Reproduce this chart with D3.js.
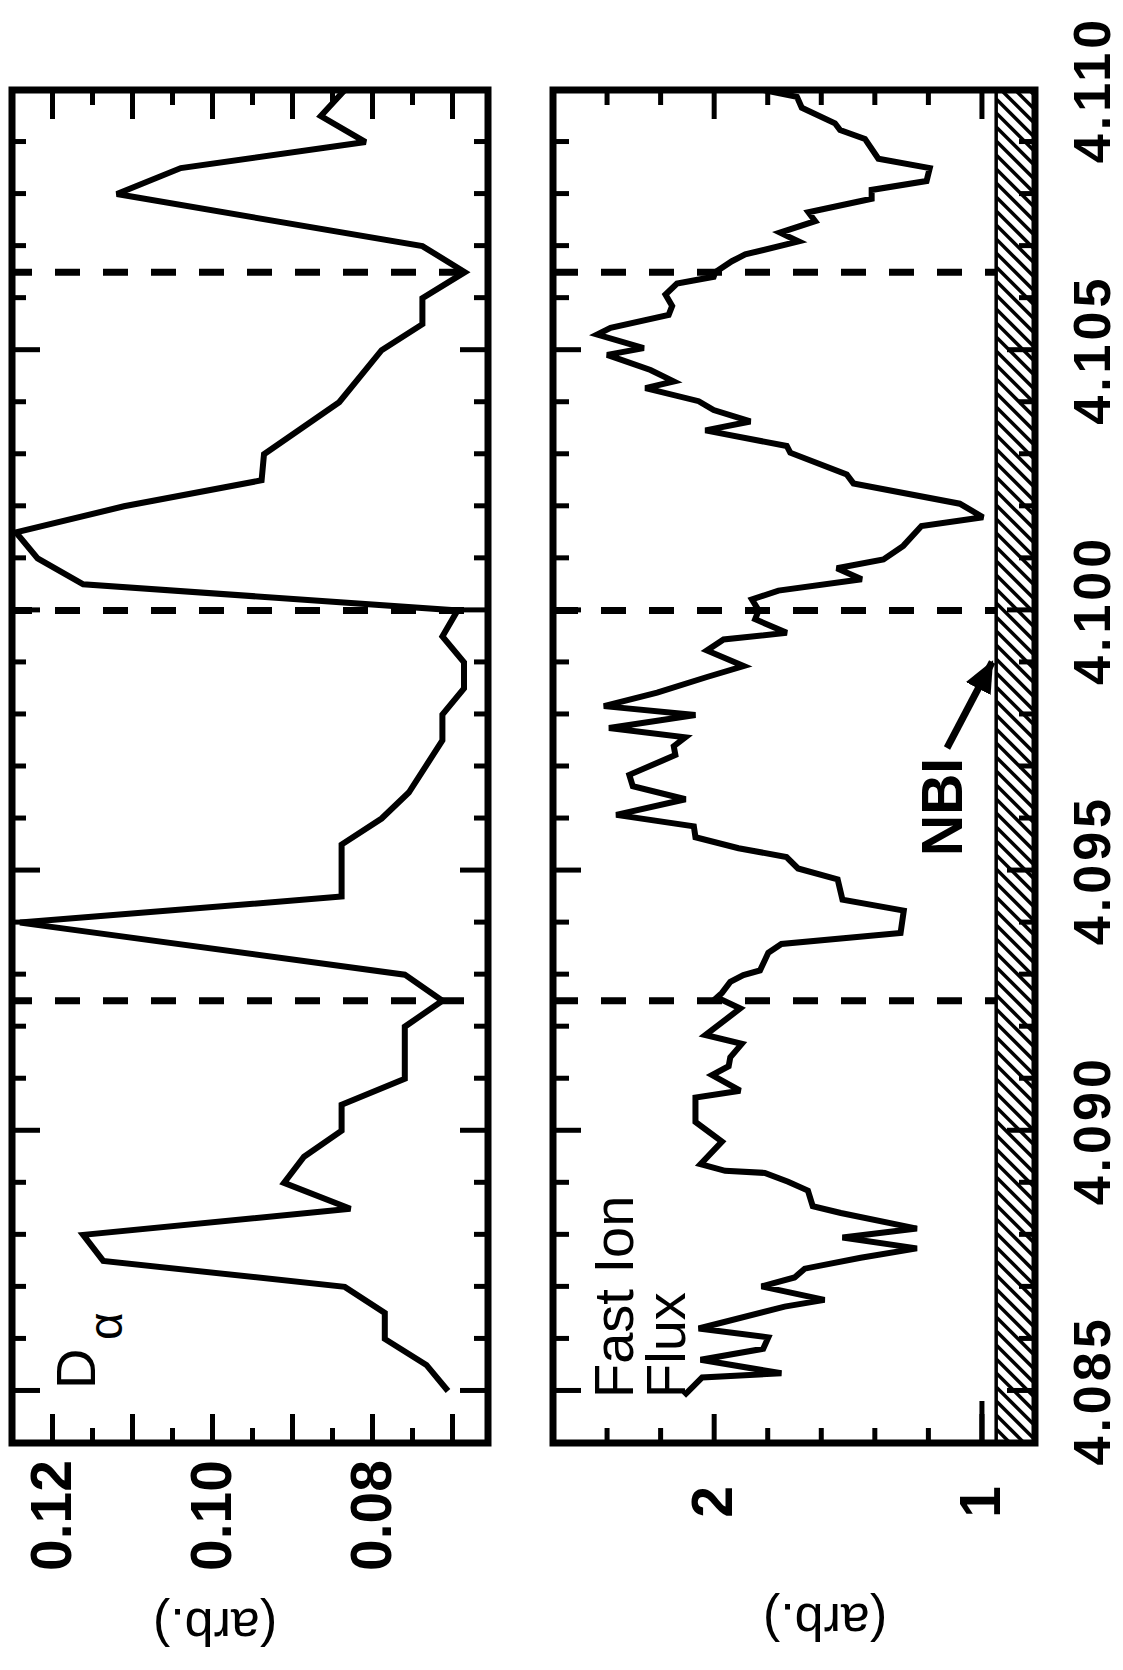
<!DOCTYPE html>
<html>
<head>
<meta charset="utf-8">
<script src="https://cdn.jsdelivr.net/npm/d3@7"></script>
<style>
  html, body { margin: 0; padding: 0; background: #fff; }
  svg { display: block; }
</style>
</head>
<body>
<svg id="chart" width="1123" height="1670"></svg>
<script>
// D-alpha emission (arb.) versus time (s)
const daTime = [4.0850, 4.0855, 4.0860, 4.0865, 4.0870, 4.0875, 4.0880, 4.0885, 4.0890, 4.0895,
  4.0900, 4.0905, 4.0910, 4.0920, 4.0925, 4.0930, 4.0940, 4.0945, 4.0955, 4.0960,
  4.0965, 4.0975, 4.0980, 4.0985, 4.0990, 4.0995, 4.1000, 4.1005, 4.1010, 4.1015,
  4.1020, 4.1025, 4.1030, 4.1040, 4.1050, 4.1055, 4.1060, 4.1065, 4.1070, 4.1080,
  4.1085, 4.1090, 4.1095, 4.1100];
const daValue = [0.0705, 0.0732, 0.0784, 0.0784, 0.0834, 0.1136, 0.1161, 0.0827, 0.0910, 0.0885,
  0.0838, 0.0838, 0.0759, 0.0759, 0.0712, 0.0759, 0.1240, 0.0838, 0.0838, 0.0788,
  0.0754, 0.0712, 0.0712, 0.0685, 0.0685, 0.0712, 0.0693, 0.1161, 0.1218, 0.1245,
  0.1110, 0.0938, 0.0935, 0.0841, 0.0788, 0.0737, 0.0737, 0.0684, 0.0737, 0.1119,
  0.1039, 0.0808, 0.0864, 0.0834];

// Fast ion flux (arb.) versus time (s)
const fluxTime = [4.08491, 4.08500, 4.08526, 4.08534, 4.08560, 4.08581, 4.08603, 4.08620, 4.08662, 4.08675,
  4.08701, 4.08718, 4.08735, 4.08756, 4.08774, 4.08795, 4.08812, 4.08842, 4.08855, 4.08885,
  4.08902, 4.08919, 4.08923, 4.08936, 4.08979, 4.09017, 4.09064, 4.09077, 4.09107, 4.09124,
  4.09141, 4.09167, 4.09184, 4.09235, 4.09256, 4.09265, 4.09286, 4.09299, 4.09308, 4.09342,
  4.09359, 4.09380, 4.09423, 4.09444, 4.09483, 4.09504, 4.09526, 4.09543, 4.09564, 4.09585,
  4.09607, 4.09637, 4.09662, 4.09684, 4.09722, 4.09739, 4.09756, 4.09774, 4.09799, 4.09816,
  4.09842, 4.09872, 4.09893, 4.09923, 4.09944, 4.09957, 4.09983, 4.10000, 4.10021, 4.10038,
  4.10060, 4.10081, 4.10098, 4.10124, 4.10162, 4.10179, 4.10205, 4.10244, 4.10261, 4.10303,
  4.10316, 4.10346, 4.10363, 4.10385, 4.10402, 4.10427, 4.10440, 4.10462, 4.10491, 4.10504,
  4.10530, 4.10543, 4.10568, 4.10585, 4.10607, 4.10628, 4.10641, 4.10650, 4.10671, 4.10684,
  4.10709, 4.10726, 4.10748, 4.10765, 4.10791, 4.10808, 4.10825, 4.10850, 4.10868, 4.10906,
  4.10923, 4.10936, 4.10966, 4.10987, 4.11000];
const fluxValue = [2.111, 2.093, 2.043, 1.747, 2.049, 1.815, 1.796, 2.056, 1.735, 1.586,
  1.821, 1.698, 1.660, 1.451, 1.241, 1.519, 1.241, 1.525, 1.630, 1.648,
  1.722, 1.809, 1.957, 2.049, 1.969, 2.068, 2.068, 1.901, 2.006, 1.944,
  1.938, 1.895, 2.031, 1.901, 1.988, 1.969, 1.938, 1.889, 1.827, 1.796,
  1.747, 1.302, 1.290, 1.519, 1.537, 1.685, 1.728, 1.907, 2.068, 2.074,
  2.364, 2.105, 2.302, 2.315, 2.143, 2.149, 2.106, 2.391, 2.068, 2.410,
  2.211, 2.025, 1.888, 2.025, 1.963, 1.727, 1.845, 1.832, 1.857, 1.758,
  1.447, 1.540, 1.366, 1.292, 1.224, 0.994, 1.081, 1.478, 1.503, 1.714,
  1.727, 2.031, 1.863, 2.000, 2.056, 2.255, 2.149, 2.236, 2.398, 2.261,
  2.435, 2.385, 2.168, 2.155, 2.180, 2.137, 2.000, 1.994, 1.932, 1.882,
  1.683, 1.752, 1.621, 1.646, 1.410, 1.410, 1.205, 1.193, 1.385, 1.435,
  1.528, 1.547, 1.671, 1.689, 1.814];

// Times marked with dashed lines
const markTimes = [4.0925, 4.1000, 4.1065];

// Axis ticks
const timeMajorTicks = [4.085, 4.090, 4.095, 4.100, 4.105, 4.110];
const timeMinorTicks = [4.086, 4.087, 4.088, 4.089, 4.091, 4.092, 4.093, 4.094,
  4.096, 4.097, 4.098, 4.099, 4.101, 4.102, 4.103, 4.104, 4.106, 4.107, 4.108, 4.109];
const daMajorTicks = [0.07, 0.08, 0.09, 0.10, 0.11, 0.12];
const daMinorTicks = [0.075, 0.085, 0.095, 0.105, 0.115];
const daLabelTicks = [0.08, 0.10, 0.12];
const fluxMajorTicks = [1, 2];
const fluxMinorTicks = [1.2, 1.4, 1.6, 1.8, 2.2, 2.4];
const fluxLabelTicks = [1, 2];

// Beam-on band (flux units)
const nbiBand = [0.8, 0.945];

// ---------------------------------------------------------------
const FONT = "'Liberation Sans', Arial, Helvetica, sans-serif";
const svg = d3.select('#chart');

// The whole figure is laid out with time running left to right and
// then turned a quarter turn counter-clockwise onto the page.
const g = svg.append('g').attr('transform', 'translate(0,1670) rotate(-90)');

const x = d3.scaleLinear().domain([4.084, 4.110]).range([227, 1580]);
const yDa = d3.scaleLinear().domain([0.0655, 0.125]).range([488, 12]);
const yFlux = d3.scaleLinear().domain([0.8, 2.6]).range([1035, 553]);

const panels = [
  { id: 'da', y: yDa, top: 12, bottom: 488 },
  { id: 'flux', y: yFlux, top: 553, bottom: 1035 }
];

const defs = svg.append('defs');
panels.forEach(p => {
  defs.append('clipPath').attr('id', 'clip-' + p.id)
    .append('rect')
    .attr('x', x.range()[0]).attr('y', p.top)
    .attr('width', x.range()[1] - x.range()[0]).attr('height', p.bottom - p.top);
});
defs.append('marker')
  .attr('id', 'arrowhead')
  .attr('markerUnits', 'userSpaceOnUse')
  .attr('markerWidth', 40).attr('markerHeight', 40)
  .attr('refX', 30).attr('refY', 14)
  .attr('orient', 'auto')
  .append('path')
  .attr('d', 'M0,0 L32,14 L0,28 Z')
  .attr('fill', '#000');

function styleAxis(sel, width) {
  sel.select('.domain').remove();
  sel.selectAll('.tick line').attr('stroke', '#000').attr('stroke-width', width);
}

// NBI hatched band along the lower edge of the flux panel
const hatchTop = yFlux(nbiBand[1]);
const hatchBottom = yFlux(nbiBand[0]);
defs.append('clipPath').attr('id', 'clip-hatch')
  .append('rect')
  .attr('x', x.range()[0]).attr('y', hatchTop)
  .attr('width', x.range()[1] - x.range()[0]).attr('height', hatchBottom - hatchTop);
const hatchH = hatchBottom - hatchTop;
g.append('g').attr('clip-path', 'url(#clip-hatch)')
  .selectAll('line')
  .data(d3.range(x.range()[0], x.range()[1] + hatchH + 14, 14))
  .join('line')
  .attr('x1', d => d).attr('y1', hatchTop)
  .attr('x2', d => d - hatchH).attr('y2', hatchBottom)
  .attr('stroke', '#000').attr('stroke-width', 3.5);
g.append('line')
  .attr('x1', x.range()[0]).attr('x2', x.range()[1])
  .attr('y1', hatchTop).attr('y2', hatchTop)
  .attr('stroke', '#000').attr('stroke-width', 3.5);

// Ticks on every edge, pointing inward
panels.forEach(p => {
  const minorT = p.id === 'da' ? 14 : 16;
  [[d3.axisTop, p.top], [d3.axisBottom, p.bottom]].forEach(([ax, yy]) => {
    g.append('g').attr('transform', `translate(0,${yy})`)
      .call(ax(x).tickValues(timeMinorTicks).tickSize(-minorT).tickFormat(''))
      .call(s => styleAxis(s, 5));
    g.append('g').attr('transform', `translate(0,${yy})`)
      .call(ax(x).tickValues(timeMajorTicks).tickSize(-28).tickFormat(''))
      .call(s => styleAxis(s, 5));
  });
  const majors = p.id === 'da' ? daMajorTicks : fluxMajorTicks;
  const minors = p.id === 'da' ? daMinorTicks : fluxMinorTicks;
  [[d3.axisLeft, x.range()[0]], [d3.axisRight, x.range()[1]]].forEach(([ax, xx]) => {
    g.append('g').attr('transform', `translate(${xx},0)`)
      .call(ax(p.y).tickValues(minors).tickSize(-15).tickFormat(''))
      .call(s => styleAxis(s, 5));
    g.append('g').attr('transform', `translate(${xx},0)`)
      .call(ax(p.y).tickValues(majors).tickSize(-29).tickFormat(''))
      .call(s => styleAxis(s, 5));
  });
});
// the unit tick of the flux scale reaches further in
g.append('g').attr('transform', `translate(${x.range()[0]},0)`)
  .call(d3.axisLeft(yFlux).tickValues([fluxMajorTicks[0]]).tickSize(-42).tickFormat(''))
  .call(s => styleAxis(s, 5));

// Dashed marker lines
panels.forEach(p => {
  const yEnd = p.id === 'flux' ? hatchTop : p.bottom;
  g.append('g').selectAll('line')
    .data(markTimes)
    .join('line')
    .attr('x1', d => x(d)).attr('x2', d => x(d))
    .attr('y1', p.top).attr('y2', yEnd)
    .attr('stroke', '#000').attr('stroke-width', 7)
    .attr('stroke-dasharray', '25,23')
    .attr('stroke-dashoffset', p.id === 'da' ? 5 : 0);
});

// Data curves
const daData = daTime.map((t, i) => ({ t, v: daValue[i] }));
const fluxData = fluxTime.map((t, i) => ({ t, v: fluxValue[i] }));
g.append('path')
  .datum(daData)
  .attr('clip-path', 'url(#clip-da)')
  .attr('fill', 'none').attr('stroke', '#000').attr('stroke-width', 6)
  .attr('stroke-linejoin', 'miter').attr('stroke-miterlimit', 3)
  .attr('d', d3.line().x(d => x(d.t)).y(d => yDa(d.v)));
g.append('path')
  .datum(fluxData)
  .attr('clip-path', 'url(#clip-flux)')
  .attr('fill', 'none').attr('stroke', '#000').attr('stroke-width', 6)
  .attr('stroke-linejoin', 'miter').attr('stroke-miterlimit', 3)
  .attr('d', d3.line().x(d => x(d.t)).y(d => yFlux(d.v)));

// Panel frames
panels.forEach(p => {
  g.append('rect')
    .attr('x', x.range()[0]).attr('y', p.top)
    .attr('width', x.range()[1] - x.range()[0]).attr('height', p.bottom - p.top)
    .attr('fill', 'none').attr('stroke', '#000').attr('stroke-width', 7);
});

// Tick labels
function styleLabels(sel, size, weight) {
  sel.select('.domain').remove();
  sel.selectAll('.tick line').remove();
  sel.attr('font-family', null).attr('font-size', null);
  sel.selectAll('text')
    .attr('font-family', FONT).attr('font-size', size)
    .attr('font-weight', weight).attr('fill', '#000');
}
g.append('g').attr('transform', `translate(0,${panels[1].bottom})`)
  .call(d3.axisBottom(x).tickValues(timeMajorTicks).tickSize(0).tickPadding(38)
    .tickFormat(d3.format('.3f')))
  .call(s => styleLabels(s, 52, 'bold'))
  .call(s => s.selectAll('text').attr('letter-spacing', 4));
g.append('g').attr('transform', `translate(${x.range()[0]},0)`)
  .call(d3.axisLeft(yDa).tickValues(daLabelTicks).tickSize(0).tickPadding(17)
    .tickFormat(d3.format('.2f')))
  .call(s => styleLabels(s, 57, 'bold'));
g.append('g').attr('transform', `translate(${x.range()[0]},0)`)
  .call(d3.axisLeft(yFlux).tickValues(fluxLabelTicks).tickSize(0).tickPadding(43)
    .tickFormat(d3.format('d')))
  .call(s => styleLabels(s, 57, 'bold'));

// Axis titles
[[43, 215], [48, 825]].forEach(([tx, ty]) => {
  g.append('text')
    .attr('transform', `translate(${tx},${ty}) rotate(-90)`)
    .attr('text-anchor', 'middle').attr('dy', '0.35em')
    .attr('font-family', FONT).attr('font-size', 52)
    .text('(arb.)');
});

// Panel annotations
g.append('text')
  .attr('x', 281).attr('y', 95)
  .attr('font-family', FONT).attr('font-size', 56)
  .text('D');
g.append('text')
  .attr('x', 330).attr('y', 122)
  .attr('font-family', FONT).attr('font-size', 48)
  .text('α');
g.append('text')
  .attr('x', 272).attr('y', 633)
  .attr('font-family', FONT).attr('font-size', 56)
  .text('Fast Ion');
g.append('text')
  .attr('x', 272).attr('y', 685)
  .attr('font-family', FONT).attr('font-size', 56)
  .text('Flux');
g.append('text')
  .attr('x', 814).attr('y', 962)
  .attr('font-family', FONT).attr('font-size', 57).attr('font-weight', 'bold')
  .text('NBI');
g.append('line')
  .attr('x1', 922).attr('y1', 947)
  .attr('x2', 1008).attr('y2', hatchTop - 4)
  .attr('stroke', '#000').attr('stroke-width', 7)
  .attr('marker-end', 'url(#arrowhead)');
</script>
</body>
</html>
